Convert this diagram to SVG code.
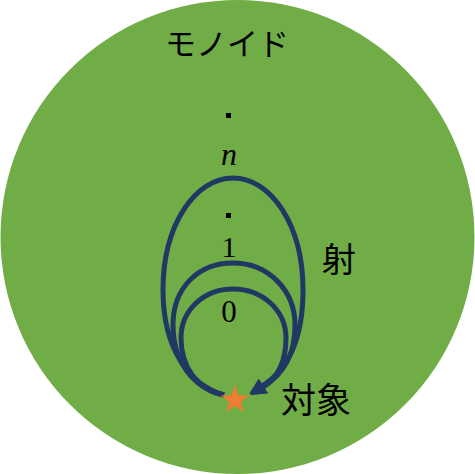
<svg xmlns="http://www.w3.org/2000/svg" width="475" height="474" viewBox="0 0 475 474">
<style>
.jp{font-family:"Noto Sans CJK JP","Noto Sans",sans-serif;fill:#000}
.m{font-family:"Liberation Serif","DejaVu Serif",serif;fill:#000}
.loop{fill:none;stroke:#203864;stroke-width:5}
</style>
<defs>
<marker id="ah" markerUnits="userSpaceOnUse" markerWidth="18" markerHeight="16" refX="1" refY="8" orient="auto">
<path d="M0,0 L16,8 L0,16 Z" fill="#203864"/>
</marker>
</defs>
<g id="monoid">
<circle cx="237.5" cy="237" r="237" fill="#70AD47"/>
<text class="jp" x="227" y="55" font-size="31" text-anchor="middle">モノイド</text>
</g>
<g id="connectors">
<path class="loop" marker-end="url(#ah)" d="M224 395 C190 385,163 350,163 290 C163 225,195 178,233 178 C271 178,303 225,303 290 C303 340,288 370,262 386"/>
<path class="loop" marker-end="url(#ah)" d="M224 395 C192 388,173 360,173 325 C173 288,198 263,233 263 C268 263,295 290,295 325 C295 355,284 374,263 387"/>
<path class="loop" marker-end="url(#ah)" d="M224 395 C196 390,181 365,181 338 C181 310,204 289,233 289 C262 289,286 310,286 338 C286 362,277 378,263 387"/>
</g>
<g id="labels">
<rect x="226" y="113" width="5" height="5" fill="#000"/>
<text class="m" x="229" y="165" font-size="32" font-style="italic" text-anchor="middle">n</text>
<rect x="226" y="213" width="5" height="5" fill="#000"/>
<text class="m" x="229" y="257" font-size="30" text-anchor="middle">1</text>
<text class="m" x="229" y="322" font-size="31" text-anchor="middle">0</text>
<text class="jp" x="339" y="272" font-size="34" text-anchor="middle">射</text>
</g>
<g id="object">
<polygon fill="#ED7D31" points="235,385 238.5,395.2 249.3,395.4 240.7,401.9 243.8,412.1 235,406 226.2,412.1 229.3,401.9 220.7,395.4 231.5,395.2"/>
<text class="jp" x="316" y="413" font-size="35" text-anchor="middle">対象</text>
</g>
</svg>
